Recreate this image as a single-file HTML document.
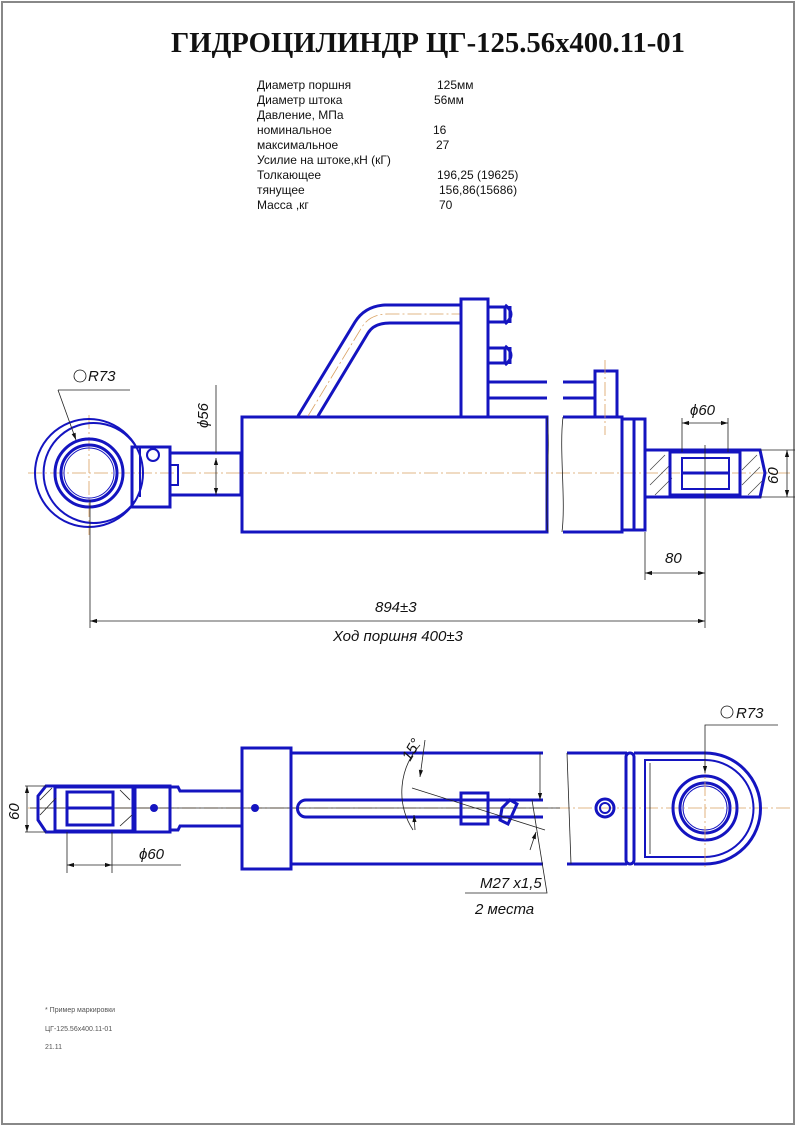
<!DOCTYPE html>
<html><head><meta charset="utf-8"><style>
html,body{margin:0;padding:0;background:#fff}
svg{display:block}
.b{fill:none;stroke:#1414c0;stroke-width:3}
.bt{fill:none;stroke:#1414c0;stroke-width:2}
.k{fill:none;stroke:#222;stroke-width:0.8}
.c{fill:none;stroke:#d9a060;stroke-width:0.8;stroke-dasharray:14 3 2 3}
.t{font-family:"Liberation Sans","DejaVu Sans",sans-serif;font-size:12px;fill:#111}
.d{font-family:"Liberation Sans","DejaVu Sans",sans-serif;font-style:italic;font-size:15px;fill:#111}
</style></head><body>
<svg width="798" height="1127" viewBox="0 0 798 1127" xmlns="http://www.w3.org/2000/svg">
<defs><marker id="a" viewBox="0 0 10 10" refX="10" refY="5" markerWidth="9" markerHeight="7" orient="auto-start-reverse" markerUnits="userSpaceOnUse"><path d="M0,2 L10,5 L0,8 z" fill="#111"/></marker></defs>
<rect x="2" y="2" width="792" height="1122" fill="none" stroke="#888" stroke-width="2"/>
<text x="171" y="52" textLength="514" lengthAdjust="spacingAndGlyphs" style="font-family:'Liberation Serif',serif;font-weight:bold;font-size:29px" fill="#111">ГИДРОЦИЛИНДР  ЦГ-125.56х400.11-01</text>
<g class="t">
<text x="257" y="89">Диаметр поршня</text><text x="437" y="89">125мм</text>
<text x="257" y="104">Диаметр штока</text><text x="434" y="104">56мм</text>
<text x="257" y="119">Давление, МПа</text>
<text x="257" y="134">номинальное</text><text x="433" y="134">16</text>
<text x="257" y="149">максимальное</text><text x="436" y="149">27</text>
<text x="257" y="164">Усилие на штоке,кН (кГ)</text>
<text x="257" y="179">Толкающее</text><text x="437" y="179">196,25 (19625)</text>
<text x="257" y="194">тянущее</text><text x="439" y="194">156,86(15686)</text>
<text x="257" y="209">Масса ,кг</text><text x="439" y="209">70</text>
</g>
<!-- TOP VIEW -->
<line class="c" x1="28" y1="473" x2="790" y2="473"/>
<line class="c" x1="89" y1="415" x2="89" y2="535"/>
<circle class="bt" cx="89" cy="473" r="54"/>
<path class="bt" d="M135,445 A50,50 0 1 0 135,501"/>
<circle class="b" cx="89" cy="473" r="34" stroke-width="4"/>
<circle class="b" cx="89" cy="473" r="28" stroke-width="4"/>
<circle fill="none" stroke="#1414c0" stroke-width="1" cx="89" cy="473" r="25"/>
<rect class="b" x="132" y="447" width="38" height="60"/>
<line class="bt" x1="140" y1="448" x2="140" y2="497"/>
<circle class="bt" cx="153" cy="455" r="6"/>
<rect class="bt" x="170" y="465" width="8" height="20"/>
<rect class="b" x="170" y="453" width="71" height="42"/>
<rect class="b" x="242" y="417" width="305" height="115"/>
<path class="b" d="M563,417 H622 V532 H563"/>
<path class="k" d="M547,417 C551,450 544,500 548,532 M563,417 C559,450 566,500 562,532"/>
<path class="b" d="M622,419 H634 V530 H622 M634,419 H645 V530 H634 M645,450 H760 L765,473 L760,497 H645"/>
<g stroke="#444" stroke-width="0.7">
<line x1="650" y1="470" x2="665" y2="455"/><line x1="650" y1="485" x2="670" y2="465"/><line x1="655" y1="495" x2="672" y2="478"/>
<line x1="742" y1="470" x2="757" y2="455"/><line x1="742" y1="485" x2="760" y2="467"/><line x1="748" y1="495" x2="762" y2="481"/>
</g>
<rect class="b" x="670" y="452" width="70" height="43"/>
<rect class="bt" x="682" y="458" width="47" height="31"/>
<line class="b" x1="682" y1="473" x2="729" y2="473"/>
<!-- pipe -->
<path class="b" d="M298,416 L355,322 Q365,306 385,305 H462"/>
<path class="b" d="M318,416 L368,333 Q374,323 390,323 H462"/>
<path class="c" d="M308,416 L362,327 Q370,314 388,314 H462"/>
<rect class="b" x="461" y="299" width="27" height="118"/>
<path class="b" d="M488,307 H505 V322 H488 M488,348 H505 V363 H488"/>
<path class="b" d="M505,305 Q517,314 505,324 M505,346 Q517,355 505,365"/>
<line class="b" x1="510" y1="306" x2="510" y2="323"/><line class="b" x1="510" y1="347" x2="510" y2="364"/>
<path class="b" d="M488,382 H547 M488,398 H547 M563,382 H595 M563,398 H595"/>
<rect class="b" x="595" y="371" width="22" height="46"/>
<line class="c" x1="605" y1="360" x2="605" y2="435"/>
<!-- dims top -->
<path class="k" d="M58,390 H130 M58,390 L76,440" marker-end="url(#a)"/>
<circle cx="80" cy="376" r="6" fill="none" stroke="#111" stroke-width="0.8"/>
<text class="d" x="88" y="381">R73</text>
<line class="k" x1="216" y1="385" x2="216" y2="453" />
<line class="k" x1="216" y1="458" x2="216" y2="495" marker-start="url(#a)" marker-end="url(#a)"/>
<text class="d" transform="translate(208,428) rotate(-90)">ϕ56</text>
<line class="k" x1="682" y1="418" x2="682" y2="452"/><line class="k" x1="728" y1="418" x2="728" y2="452"/>
<line class="k" x1="682" y1="423" x2="728" y2="423" marker-start="url(#a)" marker-end="url(#a)"/>
<text class="d" x="690" y="415">ϕ60</text>
<line class="k" x1="760" y1="450" x2="795" y2="450"/><line class="k" x1="760" y1="497" x2="795" y2="497"/>
<line class="k" x1="787" y1="450" x2="787" y2="497" marker-start="url(#a)" marker-end="url(#a)"/>
<text class="d" transform="translate(778,484) rotate(-90)">60</text>
<line class="k" x1="645" y1="532" x2="645" y2="580"/>
<line class="k" x1="705" y1="445" x2="705" y2="628"/>
<line class="k" x1="645" y1="573" x2="705" y2="573" marker-start="url(#a)" marker-end="url(#a)"/>
<text class="d" x="665" y="563">80</text>
<line class="k" x1="90" y1="500" x2="90" y2="628"/>
<line class="k" x1="90" y1="621" x2="705" y2="621" marker-start="url(#a)" marker-end="url(#a)"/>
<text class="d" x="375" y="612">894±3</text>
<text class="d" x="333" y="641">Ход поршня 400±3</text>
<!-- BOTTOM VIEW -->
<line class="c" x1="28" y1="808" x2="790" y2="808"/>
<line class="k" x1="30" y1="808" x2="560" y2="808"/>
<path class="b" d="M46,786 H170 V832 H46 L38,820 V796 Z"/>
<rect class="b" x="55" y="787" width="78" height="44"/>
<rect class="b" x="67" y="792" width="46" height="33"/>
<line class="b" x1="67" y1="808" x2="113" y2="808"/>
<path class="k" d="M40,800 L52,788 M40,815 L56,798 M120,790 L130,800 M120,826 L132,815"/>
<rect class="b" x="135" y="787" width="35" height="45"/>
<circle cx="154" cy="808" r="4" fill="#1414c0"/>
<path class="b" d="M170,787 H178 L180,791 H241 M170,830 H178 L180,826 H241"/>
<rect class="b" x="242" y="748" width="49" height="121"/>
<circle cx="255" cy="808" r="4" fill="#1414c0"/>
<path class="b" d="M291,753 H543 M291,864 H543"/>
<path class="b" d="M543,800 H306 A8.5,8.5 0 0 0 306,817 H543"/>
<rect class="b" x="461" y="793" width="27" height="31" fill="#fff"/>
<path class="b" d="M502,808 L510,800 L517,804 L508,824 L500,820 Z"/>
<line class="k" x1="412" y1="788" x2="545" y2="830"/>
<path class="k" d="M420,745 A70,70 0 0 0 413,830" />
<line class="k" x1="425" y1="740" x2="420" y2="777" marker-end="url(#a)"/>
<line class="k" x1="415" y1="830" x2="414" y2="815" marker-end="url(#a)"/>
<text class="d" transform="translate(410,762) rotate(-60)">15°</text>
<line class="k" x1="540" y1="753" x2="540" y2="800" marker-end="url(#a)"/>
<line class="k" x1="530" y1="850" x2="536" y2="832" marker-end="url(#a)"/>
<path class="k" d="M532,800 L547,893 H465"/>
<text class="d" x="480" y="888">M27 x1,5</text>
<text class="d" x="475" y="914">2 места</text>
<path class="b" d="M567,753 H627 M567,864 H627"/>
<line class="k" x1="567" y1="753" x2="571" y2="864"/>
<rect class="b" x="626" y="753" width="8" height="111" rx="4"/>
<path class="b" d="M634,753 H705 A55,55 0 0 1 705,864 H634"/>
<path class="bt" d="M645,760 H705 A48,48 0 0 1 705,857 H645 Z"/>
<line class="k" x1="650" y1="763" x2="650" y2="854"/>
<circle class="b" cx="705" cy="808" r="32" stroke-width="4"/>
<circle class="b" cx="705" cy="808" r="25" stroke-width="4"/>
<circle fill="none" stroke="#1414c0" stroke-width="1" cx="705" cy="808" r="22"/>
<line class="c" x1="705" y1="760" x2="705" y2="870"/>
<circle class="b" cx="605" cy="808" r="9"/>
<circle class="bt" cx="605" cy="808" r="5"/>
<path class="k" d="M778,725 H705 V773" marker-end="url(#a)"/>
<circle cx="727" cy="712" r="6" fill="none" stroke="#111" stroke-width="0.8"/>
<text class="d" x="736" y="718">R73</text>
<line class="k" x1="25" y1="786" x2="46" y2="786"/><line class="k" x1="25" y1="832" x2="46" y2="832"/>
<line class="k" x1="27" y1="786" x2="27" y2="832" marker-start="url(#a)" marker-end="url(#a)"/>
<text class="d" transform="translate(19,820) rotate(-90)">60</text>
<line class="k" x1="67" y1="832" x2="67" y2="873"/><line class="k" x1="112" y1="832" x2="112" y2="873"/>
<line class="k" x1="67" y1="865" x2="112" y2="865" marker-start="url(#a)" marker-end="url(#a)"/>
<line class="k" x1="112" y1="865" x2="181" y2="865"/>
<text class="d" x="139" y="859">ϕ60</text>
<g style="font-family:'Liberation Sans',sans-serif;font-size:7px" fill="#555">
<text x="45" y="1012">* Пример маркировки</text>
<text x="45" y="1031">ЦГ-125.56х400.11-01</text>
<text x="45" y="1049">21.11</text>
</g>
</svg>
</body></html>
